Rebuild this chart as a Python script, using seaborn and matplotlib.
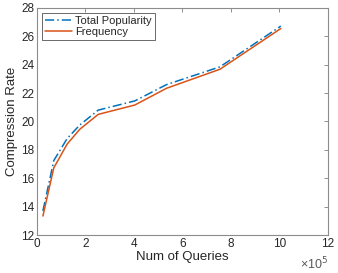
import matplotlib
matplotlib.use("Agg")
import matplotlib.pyplot as plt
import seaborn as sns
import pandas as pd

queries = [25000, 70000, 125000, 177000, 253000, 404000, 535000, 755000, 1006000]
total_popularity = [13.7, 17.25, 18.8, 19.75, 20.8, 21.45, 22.6, 23.85, 26.72]
frequency = [13.34, 16.74, 18.41, 19.45, 20.5, 21.16, 22.34, 23.68, 26.55]
xticks = [0, 2e5, 4e5, 6e5, 8e5, 10e5, 12e5]
yticks = [12, 14, 16, 18, 20, 22, 24, 26, 28]

sns.set_theme(style="white")
plt.rcParams['font.family'] = ['Liberation Sans', 'DejaVu Sans']

df = pd.DataFrame({
    "Num of Queries": queries * 2,
    "Compression Rate": total_popularity + frequency,
    "Series": ["Total Popularity"] * len(queries) + ["Frequency"] * len(queries),
})

fig = plt.figure(figsize=(3.38, 2.73), dpi=100)
ax = fig.add_axes([0.109, 0.139, 0.861, 0.832])

sns.lineplot(data=df, x="Num of Queries", y="Compression Rate", hue="Series",
             style="Series", palette={"Total Popularity": "#0072BD", "Frequency": "#D95319"},
             dashes={"Total Popularity": (6, 2, 1, 2), "Frequency": ""},
             linewidth=1.1, ax=ax)

ax.set_xlim(0, 12e5)
ax.set_ylim(12, 28)
ax.set_xticks(xticks)
ax.set_xticklabels([f"{int(t/1e5)}" for t in xticks])
ax.set_yticks(yticks)
ax.set_yticklabels([str(t) for t in yticks])
ax.tick_params(direction="in", length=3, width=0.6, labelcolor="#262626", labelsize=8.5,
               top=True, right=True, pad=2, color="#808080")
for s in ax.spines.values():
    s.set_color("#8c8c8c")
    s.set_linewidth(0.8)
ax.set_xlabel("Num of Queries", fontsize=9.5, color="#262626", labelpad=1)
ax.set_ylabel("Compression Rate", fontsize=9.5, color="#262626", labelpad=2)
ax.text(1.0, -0.09, "\u00d710$^5$", transform=ax.transAxes, ha="right", va="top",
        fontsize=9, color="#595959")

leg = ax.legend(loc="upper left", fontsize=8, frameon=True, fancybox=False,
                borderpad=0.25, labelspacing=0.1, handlelength=2.4, handletextpad=0.3,
                borderaxespad=0.5)
leg.get_frame().set_edgecolor("#262626")
leg.get_frame().set_linewidth(0.6)

fig.savefig("out.png", dpi=100)
